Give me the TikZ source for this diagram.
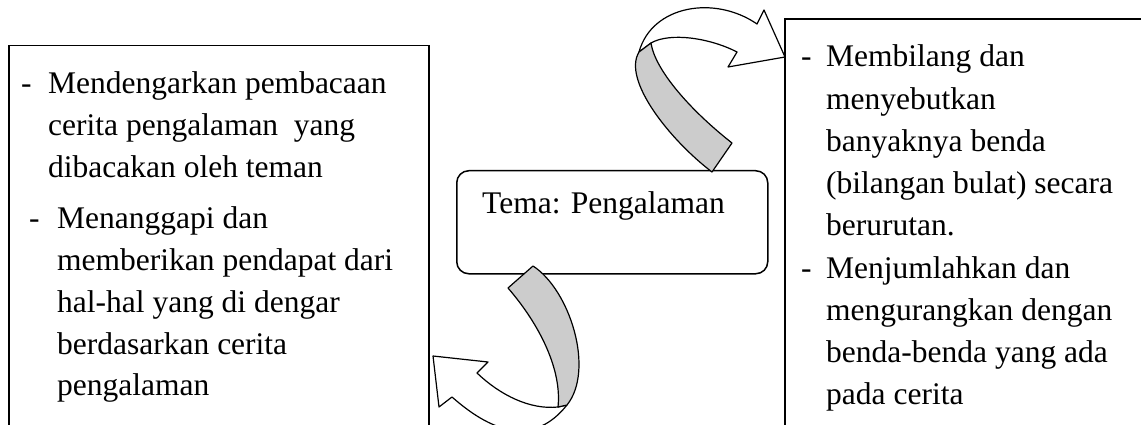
\documentclass[tikz,border=0pt]{standalone}
\usepackage{fontspec}
\setmainfont{Liberation Serif}
\begin{document}
\begin{tikzpicture}[x=1pt,y=-1pt,
  boxline/.style={draw=black,line width=1.5pt},
  arrline/.style={draw=black,line width=1.2pt,line join=round},
  txt/.style={anchor=base west,inner sep=0pt,font=\fontsize{31.5}{42}\selectfont}]
\useasboundingbox (0,0) rectangle (1141,425);
\clip (0,0) rectangle (1141,425);
% left box
\draw[boxline] (9,45.5) rectangle (429,470);
% right box
\draw[boxline] (785,19) rectangle (1160,470);
% centre box
\node[boxline,rounded corners=12pt,minimum width=311pt,minimum height=103pt,anchor=north west,inner sep=0pt] (temabox) at (456,170) {};
\node[txt] (tema) at (482,214) {Tema: Pengalaman};
% left text
\node[txt] (ld1) at (21,94) {-};
\foreach \t [count=\i] in {Mendengarkan pembacaan,cerita pengalaman\ \ yang,dibacakan oleh teman}
  {\node[txt] (la\i) at (48,{94+41.8*(\i-1)}) {\t};}
\node[txt] (ld2) at (29,229) {-};
\foreach \t [count=\i] in {Menanggapi dan,memberikan pendapat dari,hal-hal yang di dengar,berdasarkan cerita,pengalaman}
  {\node[txt] (lb\i) at (57,{229+41.7*(\i-1)}) {\t};}
% right text
\node[txt] (rd1) at (801,67) {-};
\foreach \t [count=\i] in {Membilang dan,menyebutkan,banyaknya benda,(bilangan bulat) secara,berurutan.}
  {\node[txt] (ra\i) at (826,{67+42.1*(\i-1)}) {\t};}
\node[txt] (rd2) at (801,278) {-};
\foreach \t [count=\i] in {Menjumlahkan dan,mengurangkan dengan,benda-benda yang ada,pada cerita}
  {\node[txt] (rb\i) at (826,{278+42.1*(\i-1)}) {\t};}
% upper curved arrow
\coordinate (uA) at (639,52);
\coordinate (uB) at (651,43);
\coordinate (uC) at (712,172);
\coordinate (uD) at (732,143);
\coordinate (uN1) at (757,24);
\coordinate (uT1) at (764,10);
\coordinate (uTip) at (785,57);
\coordinate (uT2) at (728,67);
\coordinate (uN2) at (737,52);
\draw[arrline,fill=white] (uA) .. controls (652,5) and (715,-5) .. (uN1) -- (uT1) -- (uTip) -- (uT2) -- (uN2)
   .. controls (710,38) and (670,32) .. (uB) -- cycle;
\draw[arrline,fill=black!20] (uA) .. controls (622,80) and (670,140) .. (uC) -- (uD)
   .. controls (690,110) and (655,70) .. (uB) -- cycle;
% lower curved arrow
\coordinate (lE) at (508,288);
\coordinate (lF) at (533,266);
\coordinate (lG) at (567,405);
\coordinate (lH) at (558,407);
\coordinate (lN1) at (477,373);
\coordinate (lT1) at (488,362);
\coordinate (lTip) at (433,356);
\coordinate (lT2) at (439,407);
\coordinate (lN2) at (452,397);
\draw[arrline,fill=white] (lH) .. controls (530,410) and (500,395) .. (lN1) -- (lT1) -- (lTip) -- (lT2) -- (lN2)
   .. controls (495,435) and (535,445) .. (lG) -- cycle;
\draw[arrline,fill=black!20] (lE) .. controls (540,325) and (562,370) .. (lH) -- (lG)
   .. controls (595,370) and (570,290) .. (lF) -- cycle;
\end{tikzpicture}
\end{document}
